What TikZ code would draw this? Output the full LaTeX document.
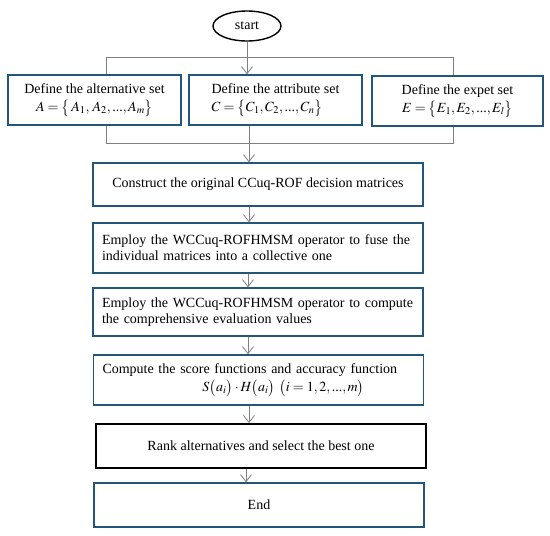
\documentclass[tikz,border=0pt]{standalone}
\usepackage{mathptmx}
\usepackage{fontspec}
\setmainfont{Liberation Serif}
\usetikzlibrary{arrows.meta,shapes.geometric}
\definecolor{boxblue}{HTML}{24557A}
\definecolor{linegray}{HTML}{808080}
\newcommand{\mydots}{\textnormal{...}}
\begin{document}
\begin{tikzpicture}[x=1pt,y=-1pt,
  every node/.style={font=\fontsize{14}{16}\selectfont},
  bluebox/.style={draw=boxblue,line width=1.5pt,rectangle,inner sep=0pt},
  leftbox/.style={bluebox,align=left,text width=312pt,inner xsep=9pt,minimum width=330pt},
  conn/.style={draw=linegray,line width=0.9pt},
  arr/.style={conn,-{Straight Barb[length=7pt,width=11pt,line width=0.8pt]}}]
\useasboundingbox (0,0) rectangle (550,536);
\node[draw=black,line width=1.4pt,ellipse,minimum width=68pt,minimum height=30pt,inner sep=0pt] (start) at (247,26) {start};
\node[bluebox,minimum width=173pt,minimum height=50pt,align=center] (alt) at (94.5,100)
  {Define the alternative set\\[2pt] $A=\bigl\{\,A_1,\,A_2,\mydots,A_m\bigr\}$};
\node[bluebox,minimum width=173pt,minimum height=50pt,align=left] (att) at (275.5,100)
  {Define the attribute set\\[2pt] $C=\bigl\{C_1,C_2,\mydots,C_n\bigr\}$};
\node[bluebox,minimum width=171pt,minimum height=50pt,align=center] (exp) at (457.5,101)
  {Define the expet set\\[2pt] $E=\bigl\{E_1,E_2,\mydots,E_l\bigr\}$};
\node[bluebox,minimum width=330pt,minimum height=43pt] (con) at (258,184.5)
  {Construct the original CCuq-ROF decision matrices};
\node[leftbox,minimum height=50pt] (em1) at (258,248)
  {Employ the WCCuq-ROFHMSM operator to fuse the\\ individual matrices into a collective one};
\node[leftbox,minimum height=48pt] (em2) at (258,312)
  {Employ the WCCuq-ROFHMSM operator to compute\\ the comprehensive evaluation values};
\node[leftbox,minimum height=50pt] (cmp) at (258.5,380)
  {Compute the score functions and accuracy function\\[2pt] \hspace*{100pt}$S\bigl(a_i\bigr)\cdot H\bigl(a_i\bigr)\ \bigl(i=1,2,\mydots,m\bigr)$};
\node[draw=black,line width=2pt,rectangle,minimum width=330pt,minimum height=44pt] (rank) at (261,446)
  {Rank alternatives and select the best one};
\node[bluebox,minimum width=330pt,minimum height=44pt] (end) at (259,505) {End};
% top bracket
\coordinate (tl) at (106,57);
\coordinate (tr) at (453,57);
\draw[conn] (tl) -- (tr);
\draw[conn] (tl) -- (tl |- alt.north);
\draw[conn] (tr) -- (tr |- exp.north);
\draw[arr] (start.south) -- (start.south |- att.north);
% bottom bracket
\coordinate (bl) at (106,143);
\coordinate (bm) at (249,143);
\coordinate (br) at (453,143);
\draw[conn] (bl |- alt.south) -- (bl) -- (br) -- (br |- exp.south);
\draw[arr] (bm |- att.south) -- (bm |- con.north);
% chain
\coordinate (c1) at (249,0);
\coordinate (c2) at (248,0);
\coordinate (c3) at (248,0);
\coordinate (c4) at (249,0);
\coordinate (c5) at (246,0);
\draw[arr] (c1 |- con.south) -- (c1 |- em1.north);
\draw[arr] (c2 |- em1.south) -- (c2 |- em2.north);
\draw[arr] (c3 |- em2.south) -- (c3 |- cmp.north);
\draw[arr] (c4 |- cmp.south) -- (c4 |- rank.north);
\draw[arr] (c5 |- rank.south) -- (c5 |- end.north);
\end{tikzpicture}
\end{document}
